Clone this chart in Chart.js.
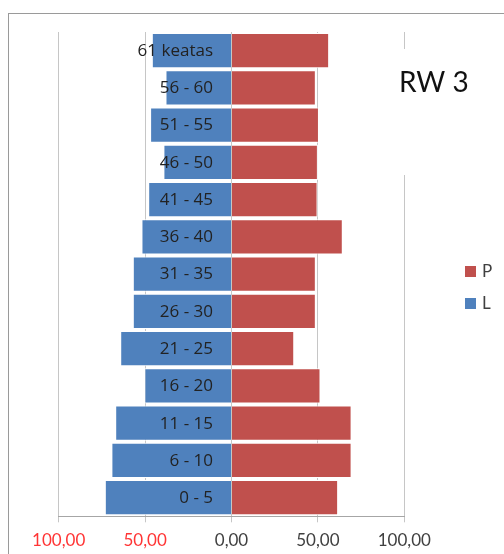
<!DOCTYPE html>
<html><head><meta charset="utf-8">
<script src="https://cdn.jsdelivr.net/npm/chart.js@4.4.1/dist/chart.umd.min.js"></script>
<style>html,body{margin:0;padding:0;background:#fff;overflow:hidden;} #wrap{width:504px;height:554px;position:relative;}</style>
</head><body><div id="wrap"><canvas id="c" width="504" height="554"></canvas></div>
<script>
const categories = ['61 keatas','56 - 60','51 - 55','46 - 50','41 - 45','36 - 40','31 - 35','26 - 30','21 - 25','16 - 20','11 - 15','6 - 10','0 - 5'];
const valuesP = [56.5,48.8,50.6,50.0,49.8,64.4,48.8,48.8,36.3,51.5,69.5,69.5,61.7];
const valuesL = [46.1,38.2,47.1,39.4,48.2,52.1,57.1,57.1,64.4,50.4,67.3,69.5,73.3];
const xTicks = [-100,-50,0,50,100];
const seriesNames = ['P','L'];
const titleText = 'RW 3';

const FONT = 'Lato, "Open Sans", sans-serif';
const CAT_FONT = '"Open Sans", Lato, sans-serif';

const framePlugin = {
  id: 'frame',
  beforeDraw(chart) {
    const ctx = chart.ctx;
    ctx.save();
    ctx.fillStyle = '#fff';
    ctx.fillRect(0, 0, chart.width, chart.height);
    ctx.strokeStyle = '#9a9a9a';
    ctx.lineWidth = 1;
    ctx.strokeRect(8.5, 13.5, 1000, 1000);
    ctx.restore();
  }
};

// category labels drawn at the zero line, over the bars
const catLabelPlugin = {
  id: 'catLabels',
  afterDatasetsDraw(chart) {
    const ctx = chart.ctx;
    const xs = chart.scales.x, ys = chart.scales.y;
    const x0 = xs.getPixelForValue(0);
    ctx.save();
    ctx.fillStyle = '#222222';
    ctx.font = '17px ' + CAT_FONT;
    ctx.textAlign = 'right';
    ctx.textBaseline = 'middle';
    chart.data.labels.forEach((lab, i) => {
      ctx.fillText(lab, x0 - 18.5, ys.getPixelForValue(i) + 0.5);
    });
    ctx.restore();
  }
};

const overlayPlugin = {
  id: 'overlay',
  afterDraw(chart) {
    const ctx = chart.ctx;
    ctx.save();
    ctx.fillStyle = '#fff';
    ctx.fillRect(394, 49, 40, 126);
    ctx.fillStyle = '#111';
    ctx.font = '28px ' + FONT;
    ctx.textAlign = 'left';
    ctx.textBaseline = 'alphabetic';
    ctx.fillText(titleText, 399, 92);
    chart.data.datasets.forEach((ds, i) => {
      const cy = 271 + i * 32;
      ctx.fillStyle = ds.backgroundColor;
      ctx.fillRect(465, cy - 5, 11, 11);
      ctx.fillStyle = '#404040';
      ctx.font = '17px ' + FONT;
      ctx.textBaseline = 'middle';
      ctx.fillText(ds.label, 482, cy + 1);
    });
    ctx.restore();
  }
};

new Chart(document.getElementById('c'), {
  type: 'bar',
  data: {
    labels: categories,
    datasets: [
      { label: seriesNames[0], data: valuesP, backgroundColor: '#C0504D', borderColor: '#ffffff', borderWidth: 1, barPercentage: 0.95, categoryPercentage: 1 },
      { label: seriesNames[1], data: valuesL.map(v => -v), backgroundColor: '#4F81BD', borderColor: '#ffffff', borderWidth: 1, barPercentage: 0.95, categoryPercentage: 1 }
    ]
  },
  options: {
    indexAxis: 'y',
    responsive: false,
    animation: false,
    devicePixelRatio: 1,
    layout: { padding: { left: 58.7, right: 99.7, top: 32, bottom: 0 } },
    plugins: { legend: { display: false }, tooltip: { enabled: false }, title: { display: false } },
    scales: {
      x: {
        type: 'linear', min: -100, max: 100, stacked: true,
        afterBuildTicks(scale) { scale.ticks = xTicks.map(v => ({ value: v })); },
        afterFit(scale) { scale.height = 37.7; },
        ticks: {
          font: { family: FONT, size: 17 },
          padding: 8,
          maxRotation: 0,
          color: (c) => (c.tick && c.tick.value < 0) ? '#ff3535' : '#404040',
          callback: (v) => Math.abs(v).toFixed(2).replace('.', ',')
        },
        grid: { color: '#c6c6c6', tickLength: 6, lineWidth: 1 },
        border: { color: '#a6a6a6' }
      },
      y: {
        type: 'category', stacked: true,
        display: false
      }
    }
  },
  plugins: [framePlugin, catLabelPlugin, overlayPlugin]
});
</script>
</body></html>
